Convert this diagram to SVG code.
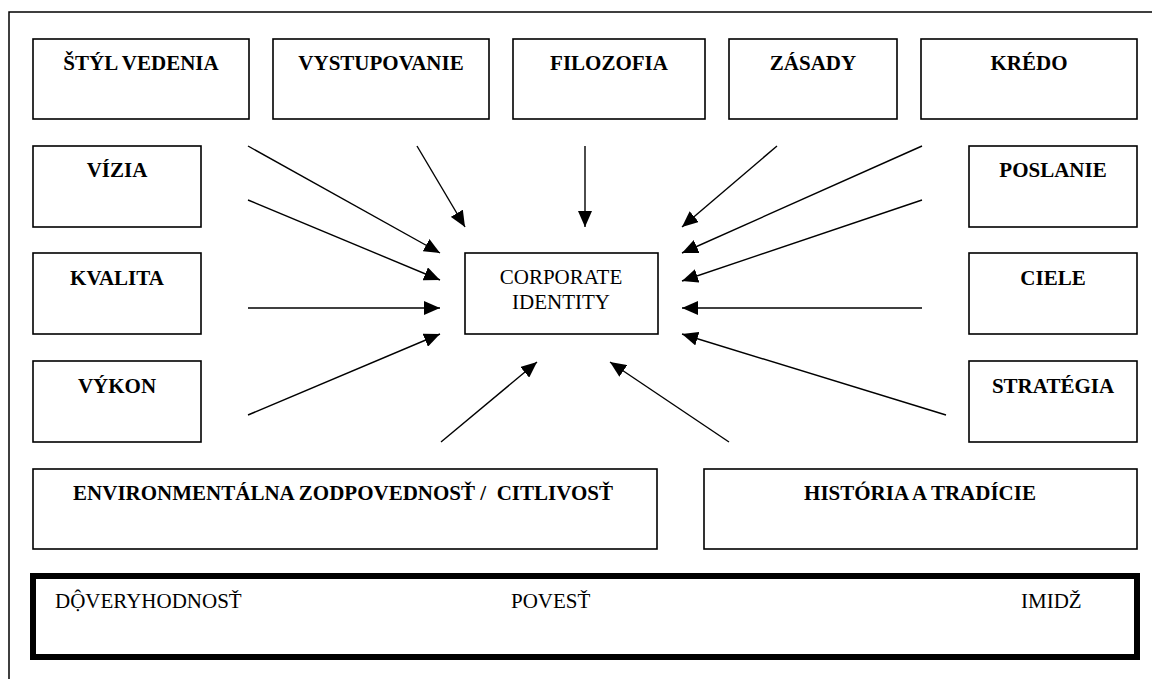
<svg xmlns="http://www.w3.org/2000/svg" width="1152" height="679" viewBox="0 0 1152 679">
<style>
.box{fill:#fff;stroke:#000;stroke-width:1.6}
.thick{fill:#fff;stroke:#000;stroke-width:6}
text{font-family:'Liberation Serif','Times New Roman',Times,'DejaVu Serif',serif;font-size:21px;fill:#000;white-space:pre}
.lbl{font-weight:bold;text-anchor:middle}
.mid{text-anchor:middle}
.arr{stroke:#000;stroke-width:1.4;fill:none;marker-end:url(#ah)}
</style>
<defs>
<marker id="ah" markerUnits="userSpaceOnUse" markerWidth="16" markerHeight="14" refX="16" refY="7" orient="auto">
<path d="M0,0 L16,7 L0,14 z" fill="#000"/>
</marker>
</defs>
<rect width="1152" height="679" fill="#fff"/>
<path d="M9,679 V12 H1152" fill="none" stroke="#000" stroke-width="1.5"/>

<g id="styl"><rect class="box" x="33" y="39" width="216" height="80"/><text class="lbl" x="141" y="70">ŠTÝL VEDENIA</text></g>
<g id="vystupovanie"><rect class="box" x="273" y="39" width="216" height="80"/><text class="lbl" x="381" y="70">VYSTUPOVANIE</text></g>
<g id="filozofia"><rect class="box" x="513" y="39" width="192" height="80"/><text class="lbl" x="609" y="70">FILOZOFIA</text></g>
<g id="zasady"><rect class="box" x="729" y="39" width="168" height="80"/><text class="lbl" x="813" y="70">ZÁSADY</text></g>
<g id="kredo"><rect class="box" x="921" y="39" width="216" height="80"/><text class="lbl" x="1029" y="70">KRÉDO</text></g>

<g id="vizia"><rect class="box" x="33" y="146" width="168" height="81"/><text class="lbl" x="117" y="177">VÍZIA</text></g>
<g id="kvalita"><rect class="box" x="33" y="253" width="168" height="81"/><text class="lbl" x="117" y="285">KVALITA</text></g>
<g id="vykon"><rect class="box" x="33" y="361" width="168" height="81"/><text class="lbl" x="117" y="393">VÝKON</text></g>

<g id="poslanie"><rect class="box" x="969" y="146" width="168" height="81"/><text class="lbl" x="1053" y="177">POSLANIE</text></g>
<g id="ciele"><rect class="box" x="969" y="253" width="168" height="81"/><text class="lbl" x="1053" y="285">CIELE</text></g>
<g id="strategia"><rect class="box" x="969" y="361" width="168" height="81"/><text class="lbl" x="1053" y="393">STRATÉGIA</text></g>

<g id="corporate"><rect class="box" x="465" y="253" width="193" height="81"/><text class="mid" x="561" y="284">CORPORATE</text><text class="mid" x="561" y="309">IDENTITY</text></g>

<g id="environment"><rect class="box" x="33" y="469" width="624" height="80"/><text class="lbl" x="343" y="500">ENVIRONMENTÁLNA ZODPOVEDNOSŤ /  CITLIVOSŤ</text></g>
<g id="historia"><rect class="box" x="704" y="469" width="433" height="80"/><text class="lbl" x="920" y="500">HISTÓRIA A TRADÍCIE</text></g>

<g id="imidz-panel"><rect class="thick" x="33" y="576" width="1104" height="81"/>
<text x="55" y="608">DỘVERYHODNOSŤ</text>
<text x="511" y="608">POVESŤ</text>
<text x="1021" y="608">IMIDŽ</text>
</g>

<g id="connectors">
<line class="arr" x1="248" y1="146" x2="440" y2="253"/>
<line class="arr" x1="248" y1="200" x2="440" y2="280"/>
<line class="arr" x1="248" y1="308" x2="440" y2="308"/>
<line class="arr" x1="248" y1="415" x2="440" y2="334"/>
<line class="arr" x1="417" y1="146" x2="465" y2="227"/>
<line class="arr" x1="585" y1="146" x2="585" y2="227"/>
<line class="arr" x1="777" y1="146" x2="682" y2="227"/>
<line class="arr" x1="922" y1="146" x2="682" y2="253"/>
<line class="arr" x1="922" y1="200" x2="682" y2="281"/>
<line class="arr" x1="922" y1="308" x2="682" y2="308"/>
<line class="arr" x1="946" y1="415" x2="682" y2="334"/>
<line class="arr" x1="441" y1="442" x2="537" y2="362"/>
<line class="arr" x1="729" y1="442" x2="610" y2="362"/>
</g>
</svg>
